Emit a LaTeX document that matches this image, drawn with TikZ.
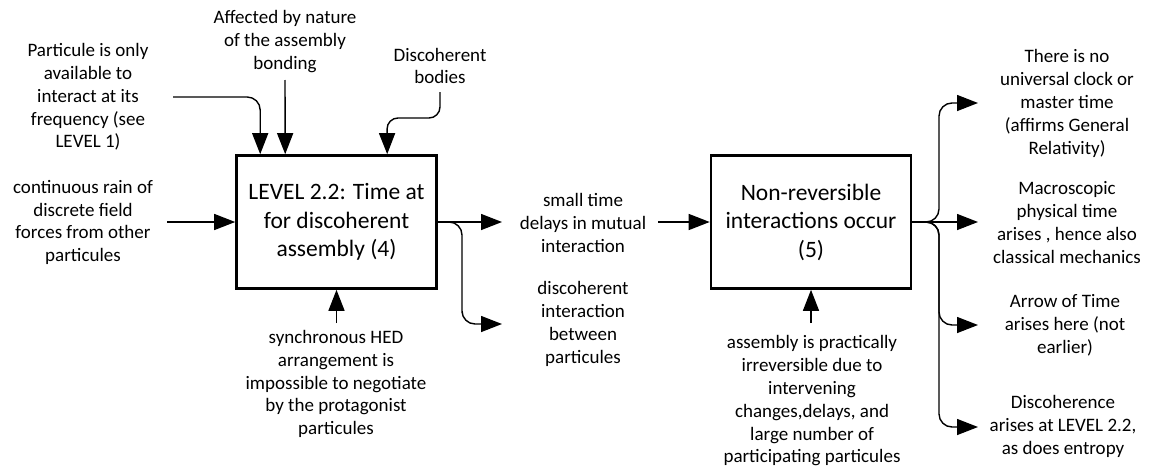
\documentclass[tikz,border=0pt]{standalone}
\usepackage{fontspec}
\setmainfont{Carlito}
\usetikzlibrary{arrows.meta}
\begin{document}
\begin{tikzpicture}[x=1pt,y=-1pt,
  box/.style={draw, line width=2.6pt, minimum width=200pt, minimum height=133pt, inner sep=0pt, align=center, font=\fontsize{23.5}{28.5}\selectfont},
  lbl/.style={align=center, inner sep=0pt, font=\fontsize{19}{22.8}\selectfont},
  conn/.style={line width=1.4pt, -{Triangle[length=21pt,width=16pt]}},
  curvy/.style={conn, rounded corners=13pt}]
\useasboundingbox (0,0) rectangle (1150,471);

% boxes
\node[box] (b1) at (336.5,222) {LEVEL 2.2: Time at\\for discoherent\\assembly (4)};
\node[box] (b2) at (811,222) {Non-reversible\\interactions occur\\(5)};

% labels
\node[lbl] (t1) at (88,97) {Particule is only\\available to\\interact at its\\frequency (see\\LEVEL 1)};
\node[lbl] (t2) at (285,41.5) {Affected by nature\\of the assembly\\bonding};
\node[lbl] (t3) at (440,66) {Discoherent\\bodies};
\node[lbl] (t4) at (83,222.5) {continuous rain of\\discrete field\\forces from other\\particules};
\node[lbl] (t5) at (583,223) {small time\\delays in mutual\\interaction};
\node[lbl] (t6) at (583,324) {discoherent\\interaction\\between\\particules};
\node[lbl] (t7) at (336,384) {synchronous HED\\arrangement is\\impossible to negotiate\\by the protagonist\\particules};
\node[lbl] (t8) at (812,401) {assembly is practically\\irreversible due to\\intervening\\changes,delays, and\\large number of\\participating particules};
\node[lbl] (t9) at (1067,103.5) {There is no\\universal clock or\\master time\\(affirms General\\Relativity)};
\node[lbl] (t10) at (1067,222.5) {Macroscopic\\physical time\\arises , hence also\\classical mechanics};
\node[lbl] (t11) at (1065,325) {Arrow of Time\\arises here (not\\earlier)};
\node[lbl] (t12) at (1063,426.5) {Discoherence\\arises at LEVEL 2.2,\\as does entropy};

% free ends
\coordinate (s1) at (173,97);
\coordinate (s2) at (285,80);
\coordinate (s3) at (440,92);
\coordinate (s4) at (167,222);
\coordinate (e5) at (502,222);
\coordinate (e6) at (502,324);
\coordinate (s7) at (658,222);
\coordinate (s8) at (336.5,323);
\coordinate (s9) at (811,323);
\coordinate (e9) at (978,103);
\coordinate (e10) at (978,222);
\coordinate (e11) at (978,325);
\coordinate (e12) at (978,427);

% connectors into box 1
\draw[curvy] (s1) -| ([xshift=25pt]b1.north west);
\draw[conn] (s2) -- ([xshift=50pt]b1.north west);
\draw[curvy, rounded corners=11pt] (s3) |- (387,118) -- ([xshift=152pt]b1.north west);
\draw[conn] (s4) -- (b1.west);
\draw[conn] (s8) -- (b1.south);

% out of box 1
\draw[conn] (b1.east) -- (e5);
\draw[curvy] (b1.east) -| (462,300) |- (e6);

% into box 2
\draw[conn] (s7) -- (b2.west);
\draw[conn] (s9) -- (b2.south);

% out of box 2
\draw[curvy] (b2.east) -| (939,150) |- (e9);
\draw[conn] (b2.east) -- (e10);
\draw[curvy] (b2.east) -| (939,300) |- (e11);
\draw[curvy] (b2.east) -| (939,400) |- (e12);
\end{tikzpicture}
\end{document}
